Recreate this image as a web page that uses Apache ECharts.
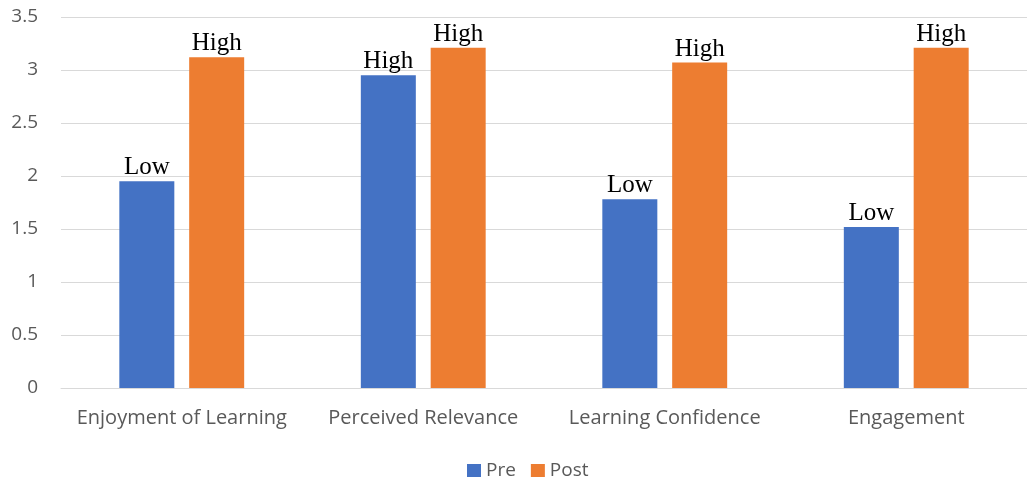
<!DOCTYPE html>
<html>
<head>
<meta charset="utf-8">
<script src="https://cdn.jsdelivr.net/npm/echarts@6/dist/echarts.min.js"></script>
<style>
  html, body { margin: 0; padding: 0; background: #fff; }
  #chart { width: 1027px; height: 481px; }
</style>
</head>
<body>
<div id="chart"></div>
<script>
// Pre/post survey scores per learning dimension
const categories = ['Enjoyment of Learning', 'Perceived Relevance', 'Learning Confidence', 'Engagement'];
const preValues = [1.95, 2.95, 1.78, 1.52];
const postValues = [3.12, 3.21, 3.07, 3.21];
const preLabels = ['Low', 'High', 'Low', 'Low'];
const postLabels = ['High', 'High', 'High', 'High'];
const yTicks = { min: 0, max: 3.5, interval: 0.5 };

const chart = echarts.init(document.getElementById('chart'));

function labelled(values, labels) {
  return values.map((v, i) => ({ value: v, label: { formatter: labels[i] } }));
}

const barLabel = {
  show: true,
  position: 'top',
  distance: 1,
  fontFamily: 'Liberation Serif',
  fontSize: 25,
  color: '#000'
};

chart.setOption({
  animation: false,
  textStyle: { fontFamily: 'Open Sans' },
  grid: { left: 61, width: 968, top: 17, height: 371, containLabel: false },
  legend: {
    top: 456,
    left: 462,
    itemWidth: 14,
    itemHeight: 13,
    itemGap: 15,
    icon: 'rect',
    textStyle: { fontSize: 19, color: '#595959', fontFamily: 'Open Sans' },
    data: ['Pre', 'Post']
  },
  xAxis: {
    type: 'category',
    data: categories,
    axisLine: { lineStyle: { color: '#d9d9d9', width: 1 } },
    axisTick: { show: false },
    axisLabel: { color: '#595959', fontSize: 20, margin: 20, interval: 0, fontFamily: 'Open Sans' }
  },
  yAxis: {
    type: 'value',
    min: yTicks.min,
    max: yTicks.max,
    interval: yTicks.interval,
    axisLine: { show: false },
    axisTick: { show: false },
    splitLine: { lineStyle: { color: '#d9d9d9', width: 1 } },
    axisLabel: { color: '#595959', fontSize: 19, margin: 23, fontFamily: 'Open Sans' }
  },
  series: [
    {
      name: 'Pre',
      type: 'bar',
      data: labelled(preValues, preLabels),
      itemStyle: { color: '#4472C4' },
      barWidth: 55,
      barGap: '27%',
      label: barLabel
    },
    {
      name: 'Post',
      type: 'bar',
      data: labelled(postValues, postLabels),
      itemStyle: { color: '#ED7D31' },
      barWidth: 55,
      label: barLabel
    }
  ]
});
</script>
</body>
</html>
